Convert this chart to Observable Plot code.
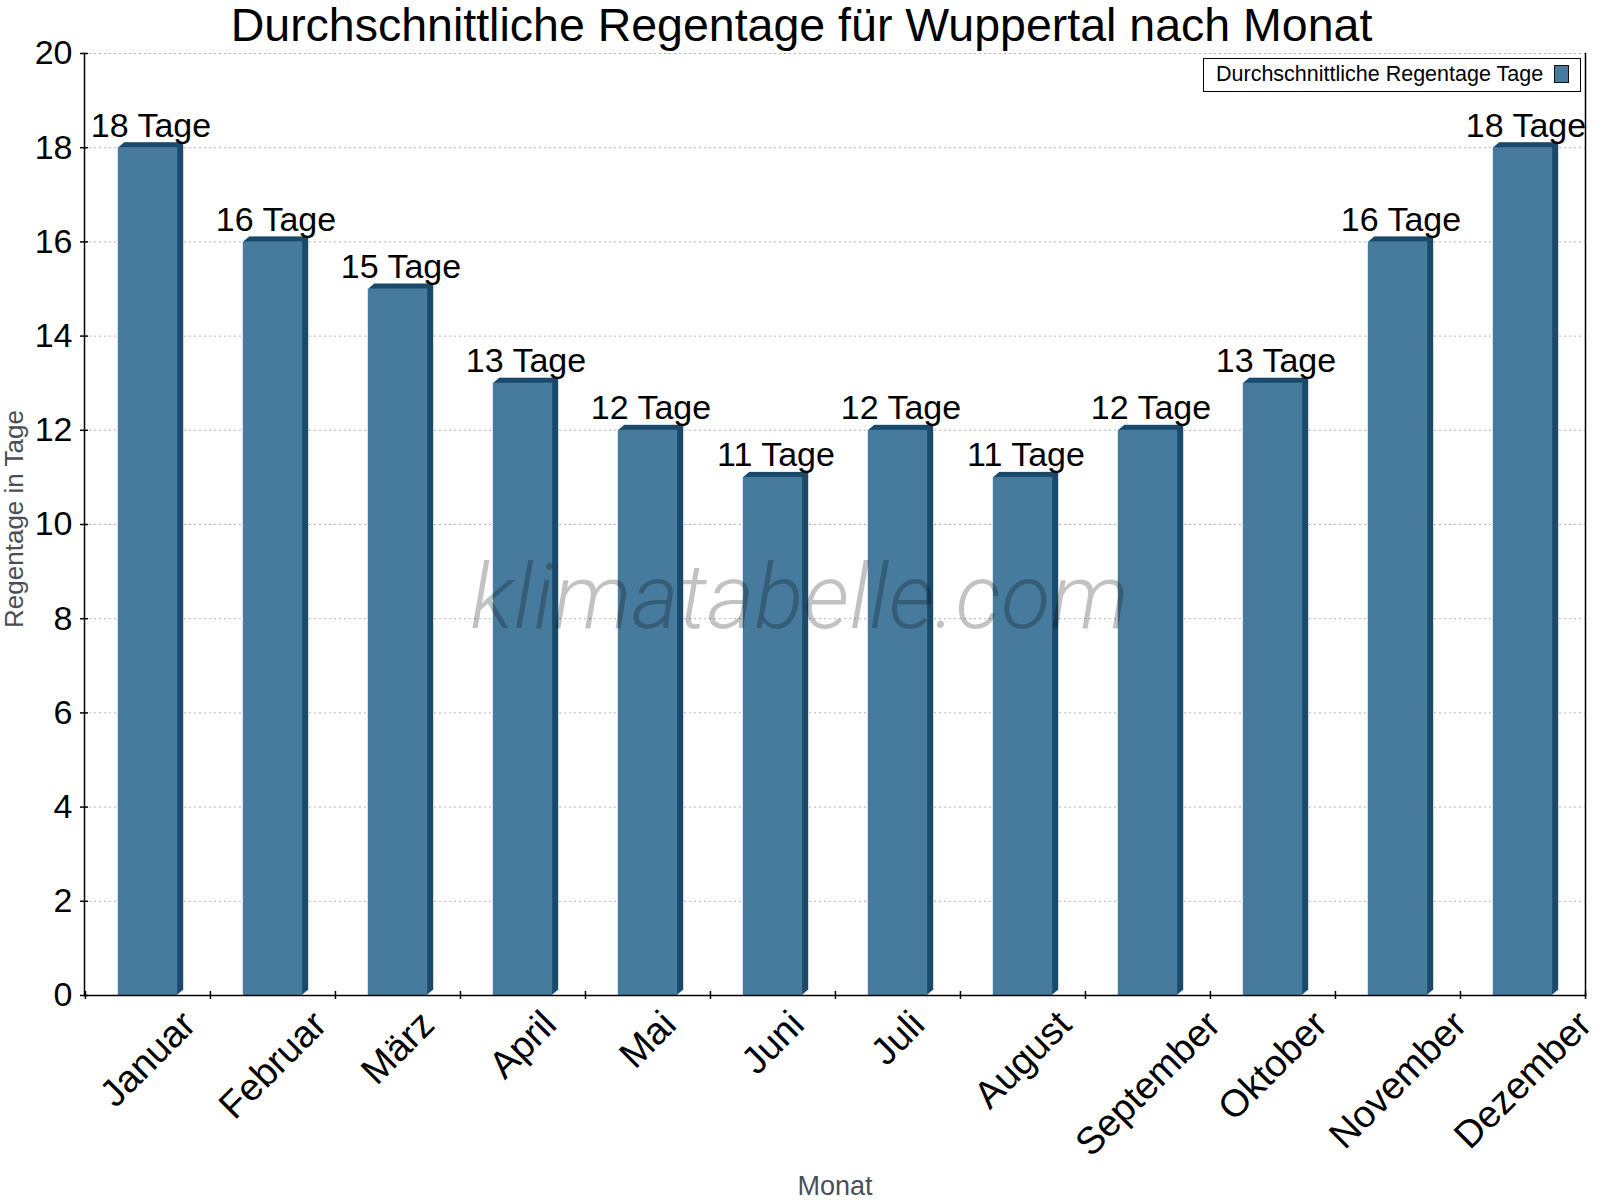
<!DOCTYPE html>
<html>
<head>
<meta charset="utf-8">
<script src="https://cdn.jsdelivr.net/npm/d3@7"></script>
<script src="https://cdn.jsdelivr.net/npm/@observablehq/plot@0.6"></script>
<style>
  html, body { margin: 0; padding: 0; background: white; }
  #wrap { position: relative; width: 1600px; height: 1200px; }
  #legend {
    position: absolute; left: 1203px; top: 58px; width: 378px; height: 34px;
    box-sizing: border-box; border: 1.5px solid #000; background: #fff;
    font-family: 'Liberation Sans', Arial, sans-serif; font-size: 21.5px; line-height: 31px;
    padding-left: 12px; color: #000; white-space: nowrap;
  }
  #legend .sw {
    position: absolute; left: 350px; top: 6px; width: 15px; height: 18px;
    box-sizing: border-box; background: #467B9E; border: 1.5px solid #111;
  }
</style>
</head>
<body>
<div id="wrap">
  <div id="chart"></div>
  <div id="legend"><span>Durchschnittliche Regentage Tage</span><div class="sw"></div></div>
</div>
<script>
// ---- data ----
const months = ["Januar","Februar","März","April","Mai","Juni","Juli","August","September","Oktober","November","Dezember"];
const rainDays = [18, 16, 15, 13, 12, 11, 12, 11, 12, 13, 16, 18];
const yTicks = [0, 2, 4, 6, 8, 10, 12, 14, 16, 18, 20];
const unit = "Tage";
const titleText = "Durchschnittliche Regentage für Wuppertal nach Monat";
const yLabel = "Regentage in Tage";
const xLabel = "Monat";
const watermark = "klimatabelle.com";

// ---- layout / style ----
const W = 1600, H = 1200, ML = 84, MR = 15, MT = 53, MB = 205;
const FONT = "'Liberation Sans', Arial, sans-serif";
const front = "#467B9E", dark = "#1A4A6B";
const bw = (W - ML - MR) / months.length;
const barW = 59.5;
const inset = (bw - barW) / 2;
const depthX = 6, depthY = 5;
const cx = ML + (W - ML - MR) / 2, cy = MT + (H - MT - MB) / 2;

const data = months.map((m, i) => ({month: m, days: rainDays[i], label: `${rainDays[i]} ${unit}`}));

// measure x labels for rotated placement
const ctx = document.createElement("canvas").getContext("2d");
const xFs = 38;
ctx.font = `${xFs}px 'Liberation Sans', Arial, sans-serif`;
const xLabelMarks = months.map(m => {
  const L = ctx.measureText(m).width;
  const dy = 12 + 0.7071 * (L / 2 + 0.4 * xFs);
  return Plot.text([m], {
    x: d => d, frameAnchor: "bottom", dy, rotate: -45,
    textAnchor: "middle", lineAnchor: "middle",
    fontSize: xFs, fill: "#000"
  });
});

const sideLayers = [];
for (let k = 1; k <= depthX; k++) {
  sideLayers.push(Plot.barY(data, {
    x: "month", y: "days", fill: dark,
    insetLeft: inset, insetRight: inset,
    dx: k, dy: -k * depthY / depthX
  }));
}

const chart = Plot.plot({
  width: W, height: H,
  marginLeft: ML, marginRight: MR, marginTop: MT, marginBottom: MB,
  style: {fontFamily: FONT, fontSize: "30px", background: "white", overflow: "visible", color: "#000"},
  x: {type: "band", domain: months, padding: 0, axis: null},
  y: {domain: [0, 20], axis: null},
  marks: [
    Plot.gridY({ticks: yTicks, stroke: "#b4b4b4", strokeOpacity: 1, strokeDasharray: "2,3", strokeWidth: 1}),
    ...sideLayers,
    Plot.barY(data, {x: "month", y: "days", fill: front, insetLeft: inset, insetRight: inset}),
    Plot.text(data, {x: "month", y: "days", text: "label", dx: 3, dy: -11, lineAnchor: "bottom", fontSize: 34, fill: "#000"}),
    // axes lines
    Plot.frame({anchor: "left", stroke: "#000", strokeWidth: 1.5}),
    Plot.frame({anchor: "right", stroke: "#000", strokeWidth: 1.5}),
    Plot.frame({anchor: "bottom", stroke: "#000", strokeWidth: 1.5}),
    // y axis labels and crossing ticks
    Plot.axisY({ticks: yTicks, tickSize: 0, tickPadding: 12, fontSize: 34, fill: "#000", label: null}),
    Plot.axisY({ticks: yTicks, tickSize: 8, dx: 4, text: null, label: null, stroke: "#000", strokeWidth: 1.5}),
    // x axis boundary ticks
    Plot.axisX({ticks: months, tickSize: 8, dx: -bw / 2, dy: -4, text: null, label: null, stroke: "#000", strokeWidth: 1.5}),
    Plot.axisX({ticks: [months[months.length - 1]], tickSize: 8, dx: bw / 2, dy: -4, text: null, label: null, stroke: "#000", strokeWidth: 1.5}),
    ...xLabelMarks,
    // titles
    Plot.text([titleText], {frameAnchor: "top", dx: 801 - cx, dy: -13, lineAnchor: "bottom", fontSize: 46.5, fill: "#000"}),
    Plot.text([yLabel], {frameAnchor: "left", rotate: -90, dx: -70, dy: -5.5, textAnchor: "middle", lineAnchor: "middle", fontSize: 26, fill: "#4a4f57"}),
    Plot.text([xLabel], {frameAnchor: "bottom", dy: 199, lineAnchor: "bottom", fontSize: 27, fill: "#4a4f57"}),
    // watermark
    Plot.text([watermark], {frameAnchor: "middle", dx: 799 - cx, dy: 627 - cy, lineAnchor: "bottom",
      fontSize: 91, fontFamily: "Roboto", fontStyle: "italic", fontWeight: 300, fill: "#000", fillOpacity: 0.24})
  ]
});
document.getElementById("chart").appendChild(chart);
</script>
</body>
</html>
